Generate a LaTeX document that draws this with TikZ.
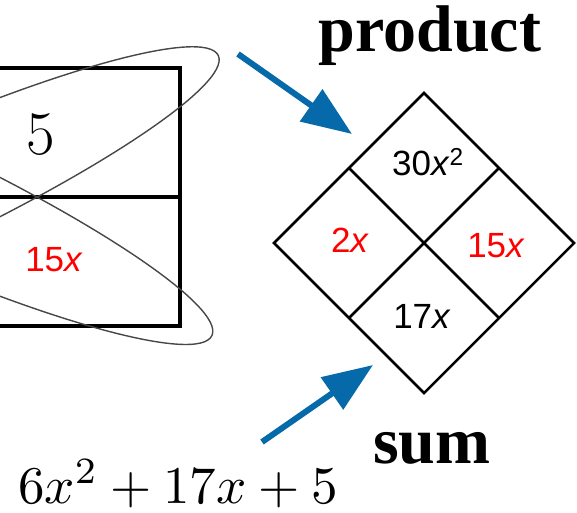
\documentclass[tikz,border=0pt]{standalone}
\usepackage{fontspec}
\usetikzlibrary{positioning, arrows.meta, calc}

\newfontfamily\cellfont{Liberation Sans}
\newfontfamily\wordfont{Liberation Serif}
\definecolor{arrblue}{RGB}{6,106,170}

\begin{document}
\begin{tikzpicture}[
  x=1pt, y=1pt,
  grid/.style = {line width=3.4pt},
  diam/.style = {line width=2.5pt, line join=miter},
  loopline/.style = {draw=black!72, line width=1.4pt},
  arr/.style = {-{Triangle[length=50pt, width=38pt]}, line width=6pt, draw=arrblue},
  cell/.style = {font=\cellfont\fontsize{35}{35}\selectfont, inner sep=0pt, anchor=base},
  hl/.style = {text=red},
  word/.style = {font=\wordfont\bfseries\fontsize{66}{66}\selectfont, inner sep=0pt, anchor=base},
]
  \useasboundingbox (0,0) rectangle (577,-512);
  \clip (0,0) rectangle (577,-512);

  % left box (cut at the page edge)
  \draw[grid] (-30,-68) -| (180,-326) -- (-30,-326);
  \draw[grid] (-30,-197) -- (180,-197);
  \node[inner sep=0pt, anchor=base, font=\fontsize{62}{62}\selectfont] (five) at (41,-154) {5};
  \node[cell, hl] (left15x) at (54,-271) {15\textit{x}};

  % the two loops
  \draw[loopline, rotate around={24.6:(-119,-210)}] (-119,-210) ellipse (371pt and 58pt);
  \draw[loopline, rotate around={-24.6:(-119,-184)}] (-119,-184) ellipse (364pt and 58pt);

  % diamond
  \coordinate (dt) at (424,-93);
  \coordinate (dr) at (574,-243);
  \coordinate (db) at (424,-393);
  \coordinate (dl) at (274,-243);
  \draw[diam] (dt) -- (dr) -- (db) -- (dl) -- cycle;
  \draw[diam] ($(dt)!.5!(dl)$) -- ($(dr)!.5!(db)$);
  \draw[diam] ($(dt)!.5!(dr)$) -- ($(dl)!.5!(db)$);

  \node[cell] (prod) at (428,-175) {30\textit{x}\textsuperscript{2}};
  \node[cell, hl] (left) at (350,-252) {2\textit{x}};
  \node[cell, hl] (right) at (496,-257) {15\textit{x}};
  \node[cell] (sumcell) at (422,-328) {17\textit{x}};

  \node[word] (product) at (430,-51) {product};
  \node[word] (sum) at (432,-463) {sum};
  \node[inner sep=0pt, anchor=base west, scale=5.3, transform shape] (poly) at (17,-503) {$6x^2+17x+5$};

  % arrows
  \coordinate (ptail) at (238,-54);
  \coordinate (ptip) at (352,-134);
  \coordinate (stail) at (262,-442);
  \coordinate (stip) at (373,-365);
  \draw[arr] (ptail) -- (ptip);
  \draw[arr] (stail) -- (stip);
\end{tikzpicture}
\end{document}
